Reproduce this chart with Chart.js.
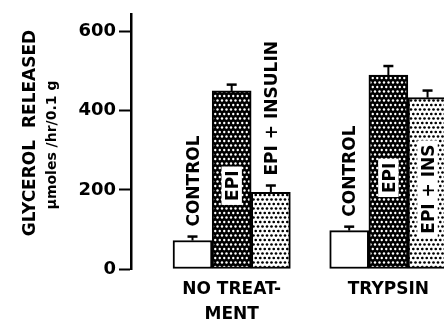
<!DOCTYPE html>
<html>
<head>
<meta charset="utf-8">
<script src="https://cdn.jsdelivr.net/npm/chart.js@4.4.0/dist/chart.umd.min.js"></script>
<style>
  html, body { margin: 0; padding: 0; background: #fff; overflow: hidden; }
  #wrap { position: relative; width: 444px; height: 322px; }
</style>
</head>
<body>
<div id="wrap"><canvas id="glycerolChart"></canvas></div>
<script>
"use strict";

// groups along the x axis
const groupLabels = [['NO TREAT-', 'MENT'], ['TRYPSIN']];
const treatments = ['CONTROL', 'EPI', 'EPI + INSULIN'];

// glycerol released, umoles/hr/0.1 g (one value per group)
const controlMean = [72, 97];
const epiMean = [450, 490];
const epiInsulinMean = [194, 433];

// error bar height above the mean
const controlSem = [10, 10];
const epiSem = [16, 23];
const epiInsulinSem = [17, 18];

// words written on or above each bar
const controlText = ['CONTROL', 'CONTROL'];
const epiText = ['EPI', 'EPI'];
const epiInsulinText = ['EPI + INSULIN', 'EPI + INS'];

const yTicks = [0, 200, 400, 600];

const means = [controlMean, epiMean, epiInsulinMean];
const sems = [controlSem, epiSem, epiInsulinSem];
const barTexts = [controlText, epiText, epiInsulinText];

const FONT = '"DejaVu Sans", "Liberation Sans", sans-serif';

function dotPattern(bg, fg, r) {
    const c = document.createElement('canvas');
    c.width = 9;
    c.height = 9;
    const g = c.getContext('2d');
    g.fillStyle = bg;
    g.fillRect(0, 0, 9, 9);
    g.fillStyle = fg;
    [[1.5, 1.5], [6, 1.5], [10.5, 1.5], [-0.75, 6], [3.75, 6], [8.25, 6], [1.5, 10.5], [6, 10.5]].forEach(p => {
        g.beginPath();
        g.arc(p[0], p[1], r, 0, Math.PI * 2);
        g.fill();
    });
    return g.createPattern(c, 'repeat');
}

const fills = ['#ffffff', dotPattern('#000000', '#ffffff', 1.2), dotPattern('#ffffff', '#000000', 1.35)];

const datasets = treatments.map((name, ti) => ({
    label: name,
    data: means[ti].map((v, gi) => ({ x: gi * 4 + ti, y: v })),
    backgroundColor: fills[ti],
    borderColor: '#000',
    borderWidth: 2,
    borderSkipped: false,
    barThickness: 39
}));

// error bars and the rotated bar words
const barDecor = {
    id: 'barDecor',
    afterDatasetsDraw(chart) {
        const ctx = chart.ctx;
        const y = chart.scales.y;
        ctx.save();
        ctx.strokeStyle = '#000';
        ctx.fillStyle = '#000';
        chart.data.datasets.forEach((ds, ti) => {
            const meta = chart.getDatasetMeta(ti);
            meta.data.forEach((bar, gi) => {
                const capY = y.getPixelForValue(means[ti][gi] + sems[ti][gi]);
                ctx.lineWidth = 2;
                ctx.beginPath();
                ctx.moveTo(bar.x, bar.y);
                ctx.lineTo(bar.x, capY);
                ctx.stroke();
                ctx.lineWidth = 2.5;
                ctx.beginPath();
                ctx.moveTo(bar.x - 5, capY);
                ctx.lineTo(bar.x + 5, capY);
                ctx.stroke();

                const text = barTexts[ti][gi];
                ctx.font = 'bold 17px ' + FONT;
                const w = ctx.measureText(text).width;
                const barH = bar.base - bar.y;
                const capH = 17 * 0.729;
                let startY;
                if (w + 40 < barH) {
                    const mid = (bar.y + bar.base) / 2 + 6;
                    startY = mid + w / 2;
                    ctx.fillStyle = '#fff';
                    ctx.fillRect(bar.x - capH / 2 - 4, mid - w / 2 - 4, capH + 8, w + 8);
                } else {
                    startY = capY - 10;
                }
                ctx.fillStyle = '#000';
                ctx.save();
                ctx.translate(bar.x + capH / 2, startY);
                ctx.rotate(-Math.PI / 2);
                ctx.textAlign = 'left';
                ctx.textBaseline = 'alphabetic';
                ctx.fillText(text, 0, 0);
                ctx.restore();
            });
        });
        ctx.restore();
    }
};

// two-line rotated y axis title
const yTitle = {
    id: 'yTitle',
    afterDraw(chart) {
        const ctx = chart.ctx;
        ctx.save();
        ctx.fillStyle = '#000';
        ctx.textAlign = 'center';
        ctx.textBaseline = 'alphabetic';
        ctx.translate(35, 133);
        ctx.rotate(-Math.PI / 2);
        ctx.font = 'bold 17px ' + FONT;
        ctx.fillText('GLYCEROL  RELEASED', 0, 0);
        ctx.restore();
        ctx.save();
        ctx.fillStyle = '#000';
        ctx.textAlign = 'center';
        ctx.textBaseline = 'alphabetic';
        ctx.translate(56, 145);
        ctx.rotate(-Math.PI / 2);
        ctx.font = 'bold 14px ' + FONT;
        ctx.fillText('\u03bcmoles /hr/0.1 g', 0, 0);
        ctx.restore();
    }
};

const ctx = document.getElementById('glycerolChart').getContext('2d');
const glycerolChart = new Chart(ctx, {
    type: 'bar',
    data: { datasets: datasets },
    plugins: [barDecor, yTitle],
    options: {
        responsive: true,
        maintainAspectRatio: false,
        animation: false,
        grouped: false,
        layout: { padding: { top: 10, left: 0, right: 0, bottom: 0 } },
        plugins: {
            legend: { display: false },
            tooltip: { enabled: false }
        },
        scales: {
            x: {
                type: 'linear',
                min: -1.57,
                max: 6.42,
                offset: false,
                grid: { display: false, drawTicks: false },
                border: { display: false },
                afterBuildTicks: scale => {
                    scale.ticks = groupLabels.map((l, gi) => ({ value: gi * 4 + 1 }));
                },
                afterFit: scale => { scale.height = 53; },
                ticks: {
                    autoSkip: false,
                    maxRotation: 0,
                    padding: 8,
                    color: '#000',
                    font: { family: FONT, size: 17, weight: 'bold', lineHeight: 1.47 },
                    callback: (v) => groupLabels[Math.round((v - 1) / 4)]
                }
            },
            y: {
                min: 0,
                max: 645,
                grid: {
                    display: true,
                    drawOnChartArea: false,
                    drawTicks: true,
                    tickLength: 12,
                    tickWidth: 2,
                    tickColor: '#000'
                },
                border: { display: true, color: '#000', width: 2.5 },
                afterBuildTicks: scale => {
                    scale.ticks = yTicks.map(v => ({ value: v }));
                },
                afterFit: scale => { scale.width = 131; },
                ticks: {
                    padding: 3,
                    color: '#000',
                    font: { family: FONT, size: 18, weight: 'bold' }
                }
            }
        }
    }
});
</script>
</body>
</html>
